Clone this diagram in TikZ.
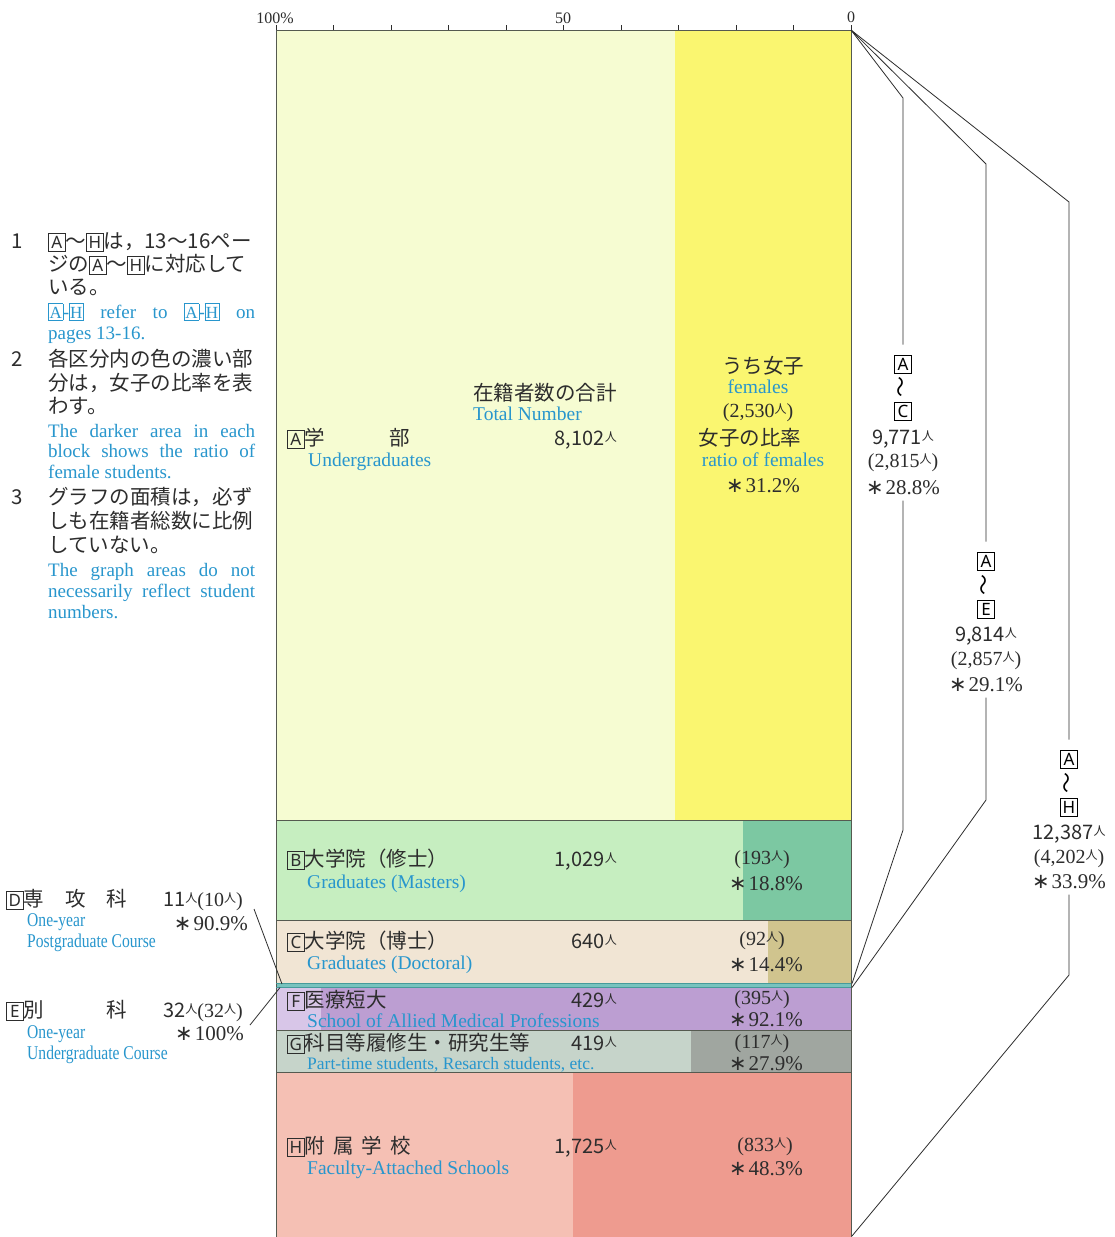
\documentclass[tikz,border=0pt]{standalone}
\usepackage{fontspec}
\usepackage{graphicx}
\setmainfont{Liberation Serif}
\newfontfamily\jp{Noto Sans CJK JP}
\newfontfamily\nsans{Noto Sans}
\newfontfamily\djv{DejaVu Sans}
\definecolor{ablue}{RGB}{40,150,205}
\definecolor{txt}{RGB}{45,45,45}
\definecolor{bdc}{RGB}{85,90,80}
\definecolor{aL}{RGB}{246,252,210}
\definecolor{aD}{RGB}{250,246,112}
\definecolor{bL}{RGB}{198,238,192}
\definecolor{bD}{RGB}{124,200,162}
\definecolor{cL}{RGB}{241,229,212}
\definecolor{cD}{RGB}{208,196,142}
\definecolor{teal}{RGB}{70,155,155}
\definecolor{tealL}{RGB}{120,195,190}
\definecolor{fL}{RGB}{216,198,232}
\definecolor{fD}{RGB}{188,158,210}
\definecolor{gL}{RGB}{198,212,202}
\definecolor{gD}{RGB}{160,166,160}
\definecolor{hL}{RGB}{245,192,180}
\definecolor{hD}{RGB}{238,155,143}
\newcommand\bx[1]{{\setlength\fboxsep{0pt}\setlength\fboxrule{0.7pt}\fbox{\makebox[16pt]{\rule[-2.5pt]{0pt}{17pt}\nsans\fontsize{17}{17}\selectfont #1}}}}
\newcommand\bxs[1]{{\setlength\fboxsep{0pt}\setlength\fboxrule{0.6pt}\fbox{\makebox[14pt]{\rule[-2pt]{0pt}{16pt}\rmfamily\fontsize{17}{17}\selectfont #1}}}}
\newcommand\ninz{\raisebox{3.5pt}{\jp\fontsize{12}{12}\selectfont 人}}
\newcommand\stt{{\djv ∗}\kern2pt}
\newcommand\wv{\rotatebox{90}{\jp\fontsize{21}{21}\selectfont ～}}
\begin{document}
\begin{tikzpicture}[x=1pt,y=-1pt,
  jpt/.style={font=\jp\fontsize{20.5}{24}\selectfont, text=txt, inner sep=0pt},
  ent/.style={font=\fontsize{19.5}{22}\selectfont, text=ablue, inner sep=0pt},
  enn/.style={font=\fontsize{19}{22}\selectfont, text=ablue, inner sep=0pt},
  ens/.style={font=\fontsize{17.5}{20}\selectfont, text=ablue, inner sep=0pt},
  numt/.style={font=\jp\fontsize{20}{24}\selectfont, text=txt, inner sep=0pt},
  sert/.style={font=\fontsize{20}{22}\selectfont, text=txt, inner sep=0pt},
  pct/.style={font=\fontsize{21}{24}\selectfont, text=txt, inner sep=0pt},
  axl/.style={font=\fontsize{16}{18}\selectfont, text=txt, inner sep=0pt},
  bxn/.style={inner sep=0pt},
  bd/.style={draw=bdc, line width=0.8pt},
  cn/.style={draw=txt, line width=0.8pt}]
\useasboundingbox (0,0) rectangle (1115,1237);
\fill[white] (0,0) rectangle (1115,1237);
% ---- bands
\fill[aL] (276,30) rectangle (851,820);
\fill[aD] (675,30) rectangle (851,820);
\fill[bL] (276,820) rectangle (851,920);
\fill[bD] (743,820) rectangle (851,920);
\fill[cL] (276,920) rectangle (851,983);
\fill[cD] (768,920) rectangle (851,983);
\fill[tealL] (276,983) rectangle (851,988);
\fill[fL] (276,988) rectangle (851,1030);
\fill[fD] (321,988) rectangle (851,1030);
\fill[gL] (276,1030) rectangle (851,1072);
\fill[gD] (691,1030) rectangle (851,1072);
\fill[hL] (276,1072) rectangle (851,1237);
\fill[hD] (573,1072) rectangle (851,1237);
\draw[bd] (276,1237) -- (276,30) -- (851,30) -- (851,1237);
\foreach \yy in {820,920,1030,1072} \draw[bd] (276,\yy) -- (851,\yy);
\draw[teal, line width=1.2pt] (276,983.5) -- (851,983.5);
\draw[teal, line width=1.2pt] (276,987.5) -- (851,987.5);
% ---- axis
\foreach \i in {0,...,10} \draw[cn, line width=0.6pt] (276+57.5*\i,25) -- (276+57.5*\i,30);
\node[axl, anchor=base] (ax100) at (275,23) {100\%};
\node[axl, anchor=base] (ax50) at (563,23) {50};
\node[axl, anchor=base] (ax0) at (851,22) {0};
% ---- notes
\node[jpt, anchor=base] (n1) at (17,248) {1};
\node[jpt, anchor=base west] (n1a) at (48,248) {\bx{A}～\bx{H}は，13～16ペー};
\node[jpt, anchor=base west] (n1b) at (48,271) {ジの\bx{A}～\bx{H}に対応して};
\node[jpt, anchor=base west] (n1c) at (48,294) {いる。};
\node[enn, anchor=base west] (n1d) at (48,318) {\makebox[207pt][s]{\bxs{A}\kern-0.5pt-\kern-0.5pt\bxs{H} refer to \bxs{A}\kern-0.5pt-\kern-0.5pt\bxs{H} on}};
\node[enn, anchor=base west] (n1e) at (48,339) {pages 13-16.};
\node[jpt, anchor=base] (n2) at (17,366) {2};
\node[jpt, anchor=base west] (n2a) at (48,366) {各区分内の色の濃い部};
\node[jpt, anchor=base west] (n2b) at (48,390) {分は，女子の比率を表};
\node[jpt, anchor=base west] (n2c) at (48,413) {わす。};
\node[enn, anchor=base west] (n2d) at (48,437) {\makebox[207pt][s]{The darker area in each}};
\node[enn, anchor=base west] (n2e) at (48,457) {\makebox[207pt][s]{block shows the ratio of}};
\node[enn, anchor=base west] (n2f) at (48,478) {female students.};
\node[jpt, anchor=base] (n3) at (17,504) {3};
\node[jpt, anchor=base west] (n3a) at (48,504) {グラフの面積は，必ず};
\node[jpt, anchor=base west] (n3b) at (48,528) {しも在籍者総数に比例};
\node[jpt, anchor=base west] (n3c) at (48,552) {していない。};
\node[enn, anchor=base west] (n3d) at (48,576) {\makebox[207pt][s]{The graph areas do not}};
\node[enn, anchor=base west] (n3e) at (48,597) {\makebox[207pt][s]{necessarily reflect student}};
\node[enn, anchor=base west] (n3f) at (48,618) {numbers.};
% ---- A
\node[jpt, anchor=base west] (la1) at (287,445) {\bx{A}学\hspace{64pt}部};
\node[ent, anchor=base west] (la2) at (308,466) {Undergraduates};
\node[jpt, anchor=base west] (la3) at (473,400) {在籍者数の合計};
\node[ent, anchor=base west] (la4) at (473,420) {Total Number};
\node[numt, anchor=base east] (la5) at (617,445) {8,102\ninz};
\node[jpt, anchor=base] (la6) at (763,373) {うち女子};
\node[ent, anchor=base] (la7) at (758,393) {females};
\node[sert, anchor=base] (la8) at (758,417) {(2,530\ninz)};
\node[jpt, anchor=base] (la9) at (750,445) {女子の比率};
\node[ent, anchor=base] (la10) at (763,466) {ratio of females};
\node[pct, anchor=base] (la11) at (763,492) {\stt31.2\%};
% ---- B
\node[jpt, anchor=base west] (lb1) at (287,866) {\bx{B}大学院（修士）};
\node[ent, anchor=base west] (lb2) at (307,888) {Graduates (Masters)};
\node[numt, anchor=base east] (lb3) at (617,866) {1,029\ninz};
\node[sert, anchor=base] (lb4) at (762,864) {(193\ninz)};
\node[pct, anchor=base] (lb5) at (766,890) {\stt18.8\%};
% ---- C
\node[jpt, anchor=base west] (lc1) at (287,948) {\bx{C}大学院（博士）};
\node[ent, anchor=base west] (lc2) at (307,969) {Graduates (Doctoral)};
\node[numt, anchor=base east] (lc3) at (617,948) {640\ninz};
\node[sert, anchor=base] (lc4) at (762,945) {(92\ninz)};
\node[pct, anchor=base] (lc5) at (766,971) {\stt14.4\%};
% ---- F
\node[jpt, anchor=base west] (lf1) at (287,1007) {\bx{F}医療短大};
\node[ent, anchor=base west] (lf2) at (307,1027) {School of Allied Medical Professions};
\node[numt, anchor=base east] (lf3) at (617,1007) {429\ninz};
\node[sert, anchor=base] (lf4) at (762,1004) {(395\ninz)};
\node[pct, anchor=base] (lf5) at (766,1026) {\stt92.1\%};
% ---- G
\node[jpt, anchor=base west] (lg1) at (287,1050) {\bx{G}科目等履修生・研究生等};
\node[ens, anchor=base west] (lg2) at (307,1069) {Part-time students, Resarch students, etc.};
\node[numt, anchor=base east] (lg3) at (617,1050) {419\ninz};
\node[sert, anchor=base] (lg4) at (762,1048) {(117\ninz)};
\node[pct, anchor=base] (lg5) at (766,1070) {\stt27.9\%};
% ---- H
\node[jpt, anchor=base west] (lh1) at (287,1153) {\bx{H}附\hspace{8pt}属\hspace{8pt}学\hspace{8pt}校};
\node[ent, anchor=base west] (lh2) at (307,1174) {Faculty-Attached Schools};
\node[numt, anchor=base east] (lh3) at (617,1153) {1,725\ninz};
\node[sert, anchor=base] (lh4) at (765,1151) {(833\ninz)};
\node[pct, anchor=base] (lh5) at (766,1175) {\stt48.3\%};
% ---- D, E (left)
\node[jpt, anchor=base west] (ld1) at (6,906) {\bx{D}専\hspace{21pt}攻\hspace{21pt}科};
\node[numt, anchor=base west] (ld2) at (163,906) {11\ninz{\rmfamily\fontsize{20}{22}\selectfont (10\ninz)}};
\node[ent, anchor=base west] (ld3) at (27,926) {\scalebox{0.8}[1]{One-year}};
\node[ent, anchor=base west] (ld4) at (27,947) {\scalebox{0.8}[1]{Postgraduate Course}};
\node[pct, anchor=base east] (ld5) at (248,930) {\stt90.9\%};
\node[jpt, anchor=base west] (le1) at (6,1017) {\bx{E}別\hspace{62pt}科};
\node[numt, anchor=base west] (le2) at (163,1017) {32\ninz{\rmfamily\fontsize{20}{22}\selectfont (32\ninz)}};
\node[ent, anchor=base west] (le3) at (27,1038) {\scalebox{0.8}[1]{One-year}};
\node[ent, anchor=base west] (le4) at (27,1059) {\scalebox{0.8}[1]{Undergraduate Course}};
\node[pct, anchor=base east] (le5) at (244,1040) {\stt100\%};
\coordinate (ds) at (254,909);
\coordinate (dl) at (282,984);
\coordinate (es) at (250,1025);
\coordinate (el) at (280,987.5);
\draw[cn] (ds) -- (dl);
\draw[cn] (es) -- (el);
% ---- right brackets
\coordinate (o) at (851,30);
\coordinate (cb) at (852,983.5);
\coordinate (eb) at (852,987.5);
\coordinate (hb) at (852,1236);
% A~C
\node[bxn] (ac1) at (903,364) {\bx{A}};
\node[bxn] (ac2) at (903,387) {\wv};
\node[bxn] (ac3) at (903,411) {\bx{C}};
\node[numt, anchor=base] (ac4) at (903,444) {9,771\ninz};
\node[sert, anchor=base] (ac5) at (903,467) {(2,815\ninz)};
\node[pct, anchor=base] (ac6) at (903,494) {\stt28.8\%};
\draw[cn] (o) -- (903,98) -- ([yshift=10pt]ac1.north);
\draw[cn] ([yshift=-6pt]ac6.south) -- (903,830) -- (cb);
% A~E
\node[bxn] (ae1) at (986,561) {\bx{A}};
\node[bxn] (ae2) at (986,585) {\wv};
\node[bxn] (ae3) at (986,609) {\bx{E}};
\node[numt, anchor=base] (ae4) at (986,641) {9,814\ninz};
\node[sert, anchor=base] (ae5) at (986,665) {(2,857\ninz)};
\node[pct, anchor=base] (ae6) at (986,691) {\stt29.1\%};
\draw[cn] (o) -- (986,164) -- ([yshift=10pt]ae1.north);
\draw[cn] ([yshift=-6pt]ae6.south) -- (986,800) -- (eb);
% A~H
\node[bxn] (ah1) at (1069,759) {\bx{A}};
\node[bxn] (ah2) at (1069,783) {\wv};
\node[bxn] (ah3) at (1069,807) {\bx{H}};
\node[numt, anchor=base] (ah4) at (1069,839) {12,387\ninz};
\node[sert, anchor=base] (ah5) at (1069,863) {(4,202\ninz)};
\node[pct, anchor=base] (ah6) at (1069,888) {\stt33.9\%};
\draw[cn] (o) -- (1069,202) -- ([yshift=10pt]ah1.north);
\draw[cn] ([yshift=-6pt]ah6.south) -- (1069,975) -- (hb);
\end{tikzpicture}
\end{document}
